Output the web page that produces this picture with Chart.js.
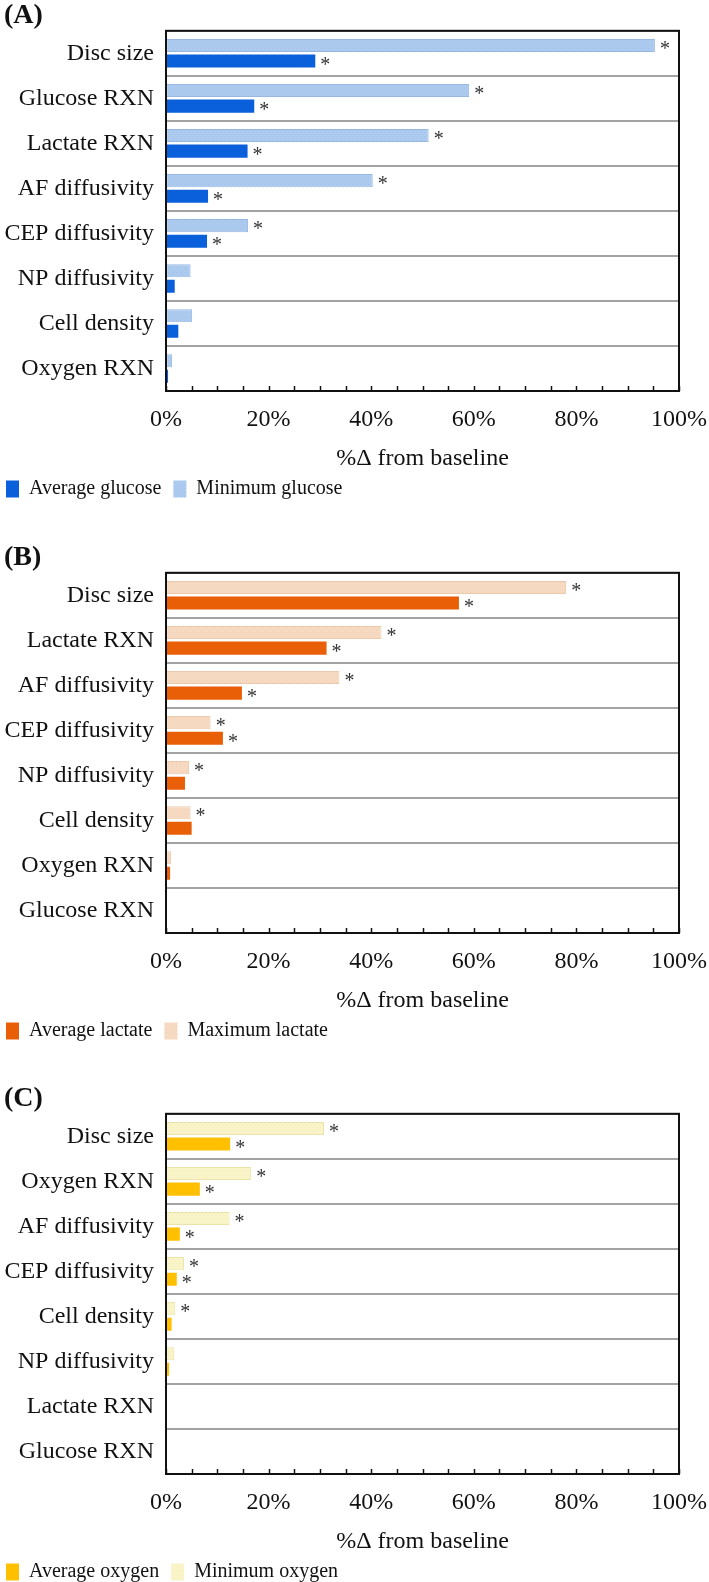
<!DOCTYPE html>
<html>
<head>
<meta charset="utf-8">
<script src="https://cdn.jsdelivr.net/npm/chart.js@4.4.1/dist/chart.umd.min.js"></script>
<style>
  html, body { margin: 0; padding: 0; background: #fff; overflow: hidden; }
  .panel { position: absolute; left: 0; width: 709px; }
</style>
</head>
<body>
<div class="panel" style="top:0"><canvas id="chartA" width="709" height="509"></canvas></div>
<div class="panel" style="top:542px"><canvas id="chartB" width="709" height="509"></canvas></div>
<div class="panel" style="top:1083px"><canvas id="chartC" width="709" height="509"></canvas></div>
<script>
// (A) glucose
var catsA = ['Disc size', 'Glucose RXN', 'Lactate RXN', 'AF diffusivity', 'CEP diffusivity', 'NP diffusivity', 'Cell density', 'Oxygen RXN'];
var avgGlucose = [29.1, 17.2, 15.9, 8.2, 8.0, 1.7, 2.4, 0.4];
var minGlucose = [95.3, 59.1, 51.2, 40.3, 16.0, 4.8, 5.1, 1.2];
var sigAvgGlucose = [1, 1, 1, 1, 1, 0, 0, 0];
var sigMinGlucose = [1, 1, 1, 1, 1, 0, 0, 0];

// (B) lactate
var catsB = ['Disc size', 'Lactate RXN', 'AF diffusivity', 'CEP diffusivity', 'NP diffusivity', 'Cell density', 'Oxygen RXN', 'Glucose RXN'];
var avgLactate = [57.1, 31.3, 14.8, 11.1, 3.7, 5.0, 0.8, 0];
var maxLactate = [78.0, 42.0, 33.8, 8.7, 4.5, 4.8, 1.0, 0];
var sigAvgLactate = [1, 1, 1, 1, 0, 0, 0, 0];
var sigMaxLactate = [1, 1, 1, 1, 1, 1, 0, 0];

// (C) oxygen
var catsC = ['Disc size', 'Oxygen RXN', 'AF diffusivity', 'CEP diffusivity', 'Cell density', 'NP diffusivity', 'Lactate RXN', 'Glucose RXN'];
var avgOxygen = [12.5, 6.6, 2.7, 2.1, 1.1, 0.6, 0, 0];
var minOxygen = [30.8, 16.6, 12.4, 3.5, 1.8, 1.6, 0, 0];
var sigAvgOxygen = [1, 1, 1, 1, 0, 0, 0, 0];
var sigMinOxygen = [1, 1, 1, 1, 1, 0, 0, 0];

var xLabelled = [0, 20, 40, 60, 80, 100];

Chart.defaults.font.family = "'Liberation Serif', 'Times New Roman', serif";
Chart.defaults.color = '#111';

// light bars have a fine texture in the original
function texture(base, dot) {
    var c = document.createElement('canvas');
    c.width = 4; c.height = 4;
    var g = c.getContext('2d');
    g.fillStyle = base;
    g.fillRect(0, 0, 4, 4);
    g.fillStyle = dot;
    g.fillRect(0, 0, 1, 1);
    g.fillRect(2, 2, 1, 1);
    return g.createPattern(c, 'repeat');
}

// black box round the plot + small inward ticks on the x axis
var frame = {
    id: 'frame',
    afterDatasetsDraw: function (chart) {
        var a = chart.chartArea, ctx = chart.ctx, x = chart.scales.x;
        ctx.save();
        ctx.strokeStyle = '#111';
        ctx.lineWidth = 1.5;
        x.ticks.forEach(function (t) {
            var px = Math.round(x.getPixelForValue(t.value)) + 0.5;
            ctx.beginPath();
            ctx.moveTo(px, a.bottom);
            ctx.lineTo(px, a.bottom - 5);
            ctx.stroke();
        });
        ctx.lineWidth = 2;
        ctx.strokeRect(a.left, a.top, a.right - a.left, a.bottom - a.top);
        ctx.restore();
    }
};

// significance asterisks
var stars = {
    id: 'stars',
    afterDatasetsDraw: function (chart) {
        var ctx = chart.ctx;
        ctx.save();
        ctx.fillStyle = '#333';
        ctx.font = "20px 'Liberation Serif'";
        ctx.textAlign = 'center';
        ctx.textBaseline = 'alphabetic';
        chart.data.datasets.forEach(function (ds, i) {
            chart.getDatasetMeta(i).data.forEach(function (bar, j) {
                if (ds.sig[j]) ctx.fillText('*', bar.x + 10, bar.y + 9.5);
            });
        });
        ctx.restore();
    }
};

function makePanel(id, letter, cats, avgLabel, avg, avgSig, avgColor, extLabel, ext, extSig, extBase, extDot, extBorder) {
    return new Chart(document.getElementById(id), {
        type: 'bar',
        data: {
            labels: cats,
            datasets: [{
                label: extLabel,
                data: ext,
                sig: extSig,
                backgroundColor: texture(extBase, extDot),
                borderColor: extBorder,
                borderWidth: 1,
                borderSkipped: false
            }, {
                label: avgLabel,
                data: avg,
                sig: avgSig,
                backgroundColor: avgColor,
                borderWidth: 0
            }]
        },
        options: {
            indexAxis: 'y',
            responsive: false,
            animation: false,
            categoryPercentage: 0.69,
            barPercentage: 0.84,
            layout: { padding: { left: 4, right: 30, top: 0, bottom: 0 } },
            scales: {
                x: {
                    min: 0,
                    max: 100,
                    grid: { drawOnChartArea: false, drawTicks: false },
                    border: { display: false },
                    ticks: {
                        stepSize: 5,
                        autoSkip: false,
                        maxRotation: 0,
                        padding: 14,
                        color: '#111',
                        font: { size: 24 },
                        callback: function (v) { return xLabelled.indexOf(v) >= 0 ? v + '%' : ''; }
                    },
                    title: {
                        display: true,
                        text: '%\u0394 from baseline',
                        color: '#111',
                        font: { size: 24 },
                        padding: { top: 0, bottom: 4 }
                    },
                    afterFit: function (s) {
                        s.height = 86;
                        s.paddingRight = 0;
                    }
                },
                y: {
                    grid: { color: '#a3a3a3', lineWidth: 2, drawTicks: false, offset: true },
                    border: { display: false },
                    ticks: { padding: 12, color: '#111', font: { size: 24 } },
                    afterFit: function (s) { s.width = 162; }
                }
            },
            plugins: {
                title: {
                    display: true,
                    text: letter,
                    align: 'start',
                    color: '#111',
                    font: { size: 28, weight: 'bold', lineHeight: 1.1 },
                    padding: { top: 0, bottom: 0 }
                },
                legend: {
                    position: 'bottom',
                    align: 'start',
                    reverse: true,
                    labels: {
                        boxWidth: 13,
                        boxHeight: 17,
                        padding: 2,
                        color: '#111',
                        font: { size: 20 },
                        generateLabels: function (chart) {
                            var items = Chart.defaults.plugins.legend.labels.generateLabels(chart);
                            items.forEach(function (it) { it.lineWidth = 0; });
                            items[1].text += '\u00a0\u00a0';
                            return items;
                        }
                    }
                },
                tooltip: { enabled: false }
            }
        },
        plugins: [frame, stars]
    });
}

makePanel('chartA', '(A)', catsA,
    'Average glucose', avgGlucose, sigAvgGlucose, '#0a5fdb',
    'Minimum glucose', minGlucose, sigMinGlucose, '#adcaef', '#9fbfe9', '#98b8e4');

makePanel('chartB', '(B)', catsB,
    'Average lactate', avgLactate, sigAvgLactate, '#e95f07',
    'Maximum lactate', maxLactate, sigMaxLactate, '#f6dac2', '#efcfb4', '#ecc9aa');

makePanel('chartC', '(C)', catsC,
    'Average oxygen', avgOxygen, sigAvgOxygen, '#ffc000',
    'Minimum oxygen', minOxygen, sigMinOxygen, '#faf4c9', '#f3ebbb', '#ece3aa');
</script>
</body>
</html>
